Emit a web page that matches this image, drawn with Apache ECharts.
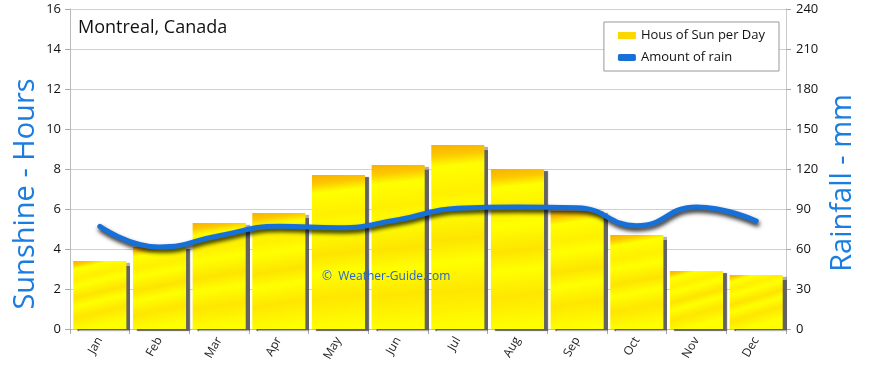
<!DOCTYPE html>
<html>
<head>
<meta charset="utf-8">
<script src="https://cdn.jsdelivr.net/npm/echarts@6/dist/echarts.min.js"></script>
<style>
html,body{margin:0;padding:0;background:#fff;}
#c{width:870px;height:368px;}
</style>
</head>
<body>
<div id="c"></div>
<script>
const months = ['Jan','Feb','Mar','Apr','May','Jun','Jul','Aug','Sep','Oct','Nov','Dec'];
const sunHours = [3.4, 4.1, 5.3, 5.8, 7.7, 8.2, 9.2, 8.0, 5.9, 4.7, 2.9, 2.7];
const rainMm = [77, 61.5, 70, 77, 76, 82, 90.5, 91.5, 91, 77.5, 91.5, 81];
const leftTicks = {min: 0, max: 16, interval: 2};
const rightTicks = {min: 0, max: 240, interval: 30};

const FONT = '"Open Sans", "Noto Sans", sans-serif';
const chart = echarts.init(document.getElementById('c'), null, {renderer: 'canvas'});

const barFill = new echarts.graphic.LinearGradient(0, 0, 0.3, 1, [
  {offset: 0, color: '#f9b000'},
  {offset: 0.06, color: '#fcc800'},
  {offset: 0.12, color: '#ffff00'},
  {offset: 0.26, color: '#fff000'},
  {offset: 0.36, color: '#ffff00'},
  {offset: 0.52, color: '#fde400'},
  {offset: 0.64, color: '#ffff00'},
  {offset: 0.8, color: '#fee600'},
  {offset: 1, color: '#ffff00'}
]);

chart.setOption({
  animation: false,
  backgroundColor: '#ffffff',
  grid: {left: 70, right: 84, top: 9, bottom: 39, containLabel: false},
  legend: {
    right: 91, top: 22,
    orient: 'vertical',
    backgroundColor: '#fff',
    borderColor: '#999',
    borderWidth: 1,
    padding: [7, 14, 7, 14],
    itemGap: 9,
    itemWidth: 18, itemHeight: 7,
    textStyle: {fontFamily: FONT, fontSize: 13, color: '#111'},
    data: [
      {name: 'Hous of Sun per Day', icon: 'rect', itemStyle: {color: '#fbd800'}},
      {name: 'Amount of rain', icon: 'roundRect', itemStyle: {color: '#1670d8'}}
    ]
  },
  xAxis: {
    type: 'category',
    data: months,
    boundaryGap: true,
    axisLine: {show: true, lineStyle: {color: '#bbb', width: 1}},
    axisTick: {show: true, length: 5, lineStyle: {color: '#aaa'}},
    axisLabel: {rotate: 60, fontFamily: FONT, fontSize: 12, color: '#222', margin: 9},
    splitLine: {show: false}
  },
  yAxis: [
    {
      type: 'value', min: leftTicks.min, max: leftTicks.max, interval: leftTicks.interval,
      position: 'left',
      axisLine: {show: true, lineStyle: {color: '#bbb'}},
      axisTick: {show: true, length: 5, lineStyle: {color: '#aaa'}},
      axisLabel: {fontFamily: FONT, fontSize: 13, color: '#111', margin: 9},
      splitLine: {show: true, lineStyle: {color: '#d0d0d0', width: 1}}
    },
    {
      type: 'value', min: rightTicks.min, max: rightTicks.max, interval: rightTicks.interval,
      position: 'right',
      axisLine: {show: true, lineStyle: {color: '#ccc'}},
      axisTick: {show: true, length: 5, lineStyle: {color: '#aaa'}},
      axisLabel: {fontFamily: FONT, fontSize: 13, color: '#111', margin: 10},
      splitLine: {show: false}
    }
  ],
  series: [
    {
      name: 'Hous of Sun per Day',
      type: 'bar',
      yAxisIndex: 0,
      data: sunHours,
      barCategoryGap: '11%',
      itemStyle: {
        color: barFill,
        shadowColor: 'rgba(90,90,90,0.95)',
        shadowBlur: 1,
        shadowOffsetX: 4,
        shadowOffsetY: 2
      }
    },
    {
      name: 'Amount of rain',
      type: 'line',
      yAxisIndex: 1,
      data: rainMm,
      smooth: 0.5,
      symbol: 'none',
      lineStyle: {
        color: '#1670d8', width: 5, cap: 'round',
        shadowColor: 'rgba(0,0,0,0.85)', shadowBlur: 4, shadowOffsetX: 1, shadowOffsetY: 3
      },
      itemStyle: {color: '#1670d8'},
      z: 5
    }
  ],
  graphic: [
    {type: 'text', left: 78, top: 19, style: {text: 'Montreal, Canada', font: '18px ' + FONT, fill: '#111'}},
    {type: 'text', x: 26, y: 194, rotation: Math.PI / 2, style: {text: 'Sunshine - Hours', font: '29px ' + FONT, fill: '#1a7de0', textAlign: 'center', textVerticalAlign: 'middle'}},
    {type: 'text', x: 843, y: 183, rotation: Math.PI / 2, style: {text: 'Rainfall - mm', font: '29px ' + FONT, fill: '#1a7de0', textAlign: 'center', textVerticalAlign: 'middle'}},
    {type: 'text', left: 322, top: 271, z: 10, style: {text: '\u00A9  Weather-Guide.com', font: '12px ' + FONT, fill: '#2266cc'}}
  ]
});
</script>
</body>
</html>
